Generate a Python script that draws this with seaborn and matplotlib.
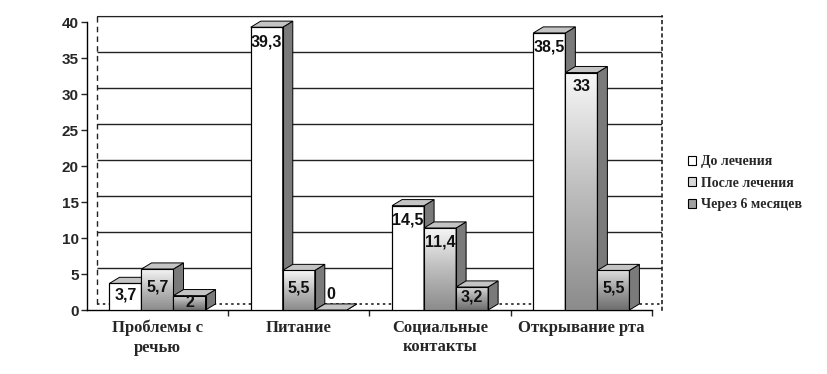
import numpy as np
import pandas as pd
import matplotlib
matplotlib.use("Agg")
import matplotlib.pyplot as plt
import seaborn as sns
from matplotlib.patches import Polygon, Patch
from matplotlib.colors import LinearSegmentedColormap

# data
categories = ["Проблемы с\nречью", "Питание", "Социальные\nконтакты", "Открывание рта"]
series = ["До лечения", "После лечения", "Через 6 месяцев"]
before = [3.7, 39.3, 14.5, 38.5]
after = [5.7, 5.5, 11.4, 33]
six_months = [2, 0, 3.2, 5.5]
value_labels = {"До лечения": ["3,7", "39,3", "14,5", "38,5"],
                "После лечения": ["5,7", "5,5", "11,4", "33"],
                "Через 6 месяцев": ["2", "0", "3,2", "5,5"]}

df = pd.DataFrame({
    "cat": categories * 3,
    "val": before + after + six_months,
    "series": [series[0]] * 4 + [series[1]] * 4 + [series[2]] * 4,
})

sns.set_style("white")
plt.rcParams["font.family"] = ["Liberation Sans", "DejaVu Sans"]

fig = plt.figure(figsize=(8.27, 3.74), dpi=100)
ax = fig.add_axes([0.105, 0.171, 0.6955, 0.786])

palette = {series[0]: "white", series[1]: "#c8c8c8", series[2]: "#8a8a8a"}
sns.barplot(data=df, x="cat", y="val", hue="series", palette=palette, width=0.68,
            edgecolor="black", linewidth=0.8, ax=ax, legend=False, saturation=1)

dx, dy = 0.071, 0.85

# gradients for the grey series, side and top faces for the 3D look
grads = {
    series[0]: None,
    series[1]: LinearSegmentedColormap.from_list("g1", ["#8c8c8c", "#bdbdbd", "#f7f7f7"]),
    series[2]: LinearSegmentedColormap.from_list("g2", ["#6e6e6e", "#a0a0a0", "#dcdcdc"]),
}
grad_img = np.linspace(0, 1, 100).reshape(-1, 1)
for i, (name, cont) in enumerate(zip(series, ax.containers)):
    z = 3 + i
    for j, rect in enumerate(cont):
        x, w, h = rect.get_x(), rect.get_width(), rect.get_height()
        rect.set_zorder(z)
        if grads[name] is not None and h > 0:
            im = ax.imshow(grad_img, cmap=grads[name], origin="lower", aspect="auto",
                           extent=(x, x + w, 0, h), zorder=z, interpolation="bilinear")
            im.set_clip_path(rect)
        side = Polygon([(x + w, 0), (x + w + dx, dy), (x + w + dx, h + dy), (x + w, h)],
                       closed=True, facecolor="#7a7a7a", edgecolor="black", lw=0.7, zorder=z)
        top = Polygon([(x, h), (x + dx, h + dy), (x + w + dx, h + dy), (x + w, h)],
                      closed=True, facecolor="#c4c4c4", edgecolor="black", lw=0.7, zorder=z)
        ax.add_patch(side)
        ax.add_patch(top)
        # redraw the front outline on top of the gradient
        ax.add_patch(plt.Rectangle((x, 0), w, h, fill=False, edgecolor="black", lw=0.8, zorder=z + 0.1))
        if h >= 8:
            ty = h - 2.0
        elif h > 0:
            ty = h * 0.55
        else:
            ty = 2.2
        ax.text(x + w / 2, ty, value_labels[name][j], ha="center", va="center",
                fontsize=11.5, fontweight="bold", color="#111111", zorder=20)

ax.set_xlim(-0.5, 3.5 + dx)
ax.set_ylim(0, 40 + dy)

# back wall: gridlines, floor and left edge
ax.hlines(np.arange(5, 45, 5) + dy, -0.5 + dx, 3.5 + dx, colors="#222222", lw=1.0, zorder=1)
ax.hlines(dy, -0.5 + dx, 3.5 + dx, colors="#222222", lw=1.2, linestyles=(0, (1.5, 2)), zorder=1)
ax.vlines(-0.5 + dx, dy, 40 + dy, colors="#222222", lw=1.0, linestyles=(0, (4, 3)), zorder=1)

for s in ["left", "bottom"]:
    ax.spines[s].set_color("black")
    ax.spines[s].set_linewidth(1.0)
ax.spines["bottom"].set_bounds(-0.5, 3.5)
ax.spines["left"].set_bounds(0, 40)
ax.spines["top"].set_color("#222222")
ax.spines["top"].set_bounds(-0.5 + dx, 3.5 + dx)
ax.spines["right"].set_color("#222222")
ax.spines["right"].set_linestyle((0, (1.5, 2.5)))
ax.spines["right"].set_linewidth(1.2)

ax.set_yticks(np.arange(0, 45, 5))
ax.set_yticklabels([str(v) for v in range(0, 45, 5)], fontsize=11, fontweight="bold")
ax.tick_params(axis="y", direction="out", length=4, width=1, left=True, pad=2)
ax.set_xticks(range(4))
ax.set_xticklabels(categories, fontsize=12, fontweight="bold", family="Liberation Serif",
                   linespacing=1.3)
ax.set_xticks([0.5, 1.5, 2.5, 3.5], minor=True)
ax.tick_params(axis="x", which="major", length=0, pad=7)
ax.tick_params(axis="x", which="minor", direction="out", length=4, width=1, bottom=True)
ax.set_xlabel("")
ax.set_ylabel("")

handles = [Patch(facecolor=c, edgecolor="black", lw=0.8) for c in ["white", "#d8d8d8", "#a0a0a0"]]
fig.legend(handles, series, loc="center left", bbox_to_anchor=(0.817, 0.51), frameon=False,
           prop={"family": "Liberation Serif", "weight": "bold", "size": 10},
           handlelength=0.6, handleheight=0.6, handletextpad=0.3, labelspacing=0.6)

fig.savefig("out.png", dpi=100)
